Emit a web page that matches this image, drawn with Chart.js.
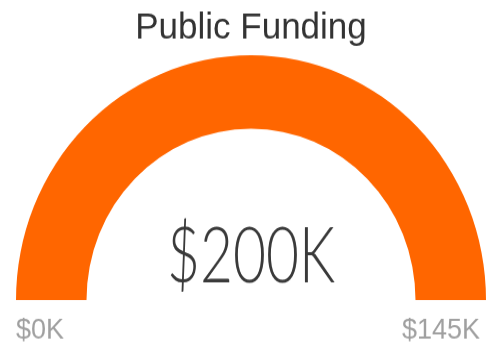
<!DOCTYPE html>
<html>
<head>
<meta charset="utf-8">
<title>Public Funding</title>
<script src="https://cdn.jsdelivr.net/npm/chart.js@4/dist/chart.umd.min.js"></script>
<style>
    html, body { margin: 0; padding: 0; background: #fff; overflow: hidden; }
</style>
</head>
<body>
<!-- drawn at 487x335 and shown a little taller -->
<canvas id="fundingGauge" width="487" height="335" style="width:487px;height:349px;display:block"></canvas>
<script>
"use strict";

// gauge values, all in $K
var gaugeTitle = ['Public Funding'];
var gaugeRange = [0, 145];
var gaugeValues = [200];
var rangeLabels = ['$0K', '$145K'];
var segmentLabels = ['Funded', 'Remaining'];

function formatK(value) {
    return '$' + value + 'K';
}

/**
 * filled part is clamped to the range, the rest is what is left up to the max
 */
function gaugeSegments() {
    var min = gaugeRange[0],
        max = gaugeRange[1],
        value = Math.min(Math.max(gaugeValues[0], min), max);
    return [value - min, max - value];
}

/**
 * draws title, the big value in the middle and the min / max labels under the ends
 */
var gaugeText = {
    id: 'gaugeText',
    afterDraw: function(chart) {
        var ctx = chart.ctx,
            arc = chart.getDatasetMeta(0).data[0],
            cx = arc.x,
            cy = arc.y,
            r = arc.outerRadius;

        ctx.save();
        ctx.textBaseline = 'alphabetic';

        // title
        ctx.fillStyle = '#333333';
        ctx.font = '35px "Liberation Sans", Arial, sans-serif';
        ctx.textAlign = 'center';
        ctx.fillText(gaugeTitle[0], cx, cy - r - 16.5);

        // value, thin and narrow
        var text = formatK(gaugeValues[0]);
        ctx.font = '300 74px Lato, "Open Sans", Roboto, sans-serif';
        var w = ctx.measureText(text).width;
        ctx.save();
        ctx.translate(cx, cy - 17.3);
        ctx.scale(168 / w, 1);
        ctx.fillStyle = '#3a3a3a';
        ctx.fillText(text, 0, 0);
        ctx.restore();

        // range labels
        ctx.fillStyle = '#a0a0a0';
        ctx.font = '27px "Liberation Sans", Arial, sans-serif';
        ctx.textAlign = 'left';
        ctx.fillText(rangeLabels[0], cx - r, cy + 37.4);
        ctx.textAlign = 'right';
        ctx.fillText(rangeLabels[1], cx + r - 6, cy + 37.4);

        ctx.restore();
    }
};

var ctx = document.getElementById('fundingGauge');
var fundingGauge = new Chart(ctx, {
    type: 'doughnut',
    data: {
        labels: segmentLabels,
        datasets: [{
            data: gaugeSegments(),
            backgroundColor: ['#FF6600', '#E6E6E6'],
            borderWidth: 0,
            hoverOffset: 0
        }]
    },
    options: {
        responsive: false,
        animation: false,
        rotation: -90,
        circumference: 180,
        cutout: '70%',
        layout: {
            padding: { left: 16, right: 1, top: 53, bottom: 47 }
        },
        plugins: {
            legend: { display: false },
            tooltip: { enabled: false }
        },
        events: []
    },
    plugins: [gaugeText]
});
</script>
</body>
</html>
